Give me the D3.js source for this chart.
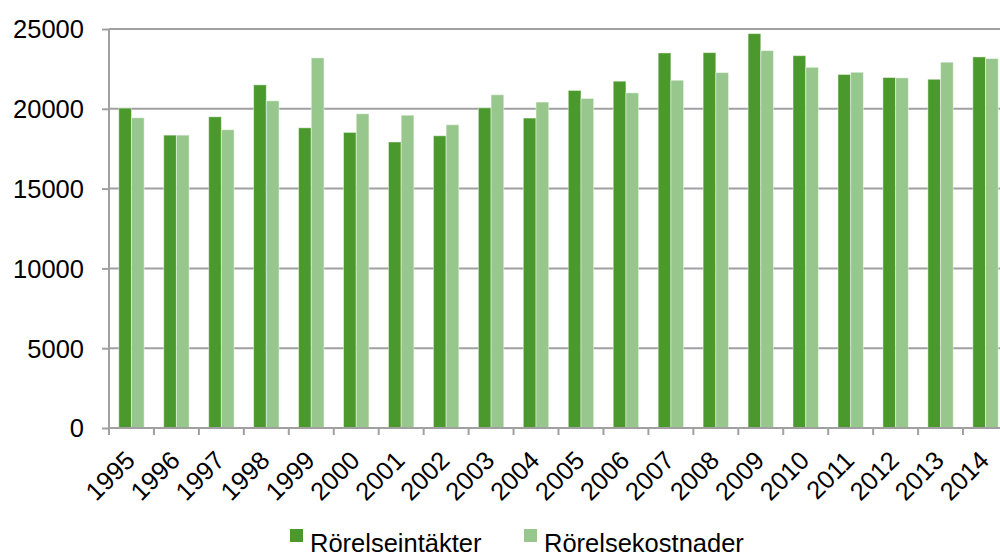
<!DOCTYPE html>
<html>
<head>
<meta charset="utf-8">
<script src="https://cdn.jsdelivr.net/npm/d3@7"></script>
<style>
  html, body { margin: 0; padding: 0; background: #fff; }
  svg { display: block; font-family: "Liberation Sans", Arial, sans-serif; }
</style>
</head>
<body>
<svg id="chart" width="1000" height="557"></svg>
<script>
const years = ["1995","1996","1997","1998","1999","2000","2001","2002","2003","2004","2005","2006","2007","2008","2009","2010","2011","2012","2013","2014"];
const seriesNames = ["Rörelseintäkter", "Rörelsekostnader"];
const intakter = [20040, 18350, 19500, 21500, 18810, 18520, 17920, 18310, 20060, 19420, 21150, 21730, 23500, 23520, 24710, 23330, 22150, 21960, 21850, 23250];
const kostnader = [19440, 18350, 18690, 20500, 23190, 19690, 19600, 19000, 20880, 20420, 20650, 21000, 21790, 22270, 23650, 22600, 22290, 21940, 22920, 23150];
const yTicks = [0, 5000, 10000, 15000, 20000, 25000];
const colors = ["#4b992c", "#98c78d"];

const svg = d3.select("#chart");
const plotLeft = 109, plotRight = 1008, plotTop = 29, plotBottom = 428;
const fs = 25.5;

const x0 = d3.scaleBand().domain(years).range([plotLeft, plotRight]).padding(0);
const bw = x0.bandwidth();
const x1 = d3.scaleBand().domain(seriesNames).range([bw * 0.2175, bw * 0.7825]).padding(0);
const y = d3.scaleLinear().domain([0, 25000]).range([plotBottom, plotTop]);
const color = d3.scaleOrdinal().domain(seriesNames).range(colors);

// gridlines
svg.append("g")
  .selectAll("line")
  .data(yTicks.filter(d => d > 0))
  .join("line")
  .attr("x1", plotLeft).attr("x2", plotRight)
  .attr("y1", d => y(d)).attr("y2", d => y(d))
  .attr("stroke", "#a0a0a0").attr("stroke-width", 2);

// y axis
const yAxis = svg.append("g")
  .attr("transform", `translate(${plotLeft},0)`)
  .call(d3.axisLeft(y).tickValues(yTicks).tickSize(7).tickPadding(18).tickFormat(d3.format("d")));
yAxis.select(".domain").attr("stroke", "#a0a0a0").attr("stroke-width", 2).attr("d", `M0,${plotTop}V${plotBottom}`);
yAxis.selectAll(".tick line").attr("stroke", "#a0a0a0").attr("stroke-width", 2);
yAxis.selectAll(".tick text").attr("font-size", fs).attr("fill", "#000").attr("dy", "0.35em")
  .attr("font-family", "'Liberation Sans', Arial, sans-serif");

// bars
const data = years.map((yr, i) => ({ year: yr, values: [
  { name: seriesNames[0], value: intakter[i] },
  { name: seriesNames[1], value: kostnader[i] }
]}));

svg.append("g")
  .selectAll("g")
  .data(data)
  .join("g")
  .attr("transform", d => `translate(${x0(d.year)},0)`)
  .selectAll("rect")
  .data(d => d.values)
  .join("rect")
  .attr("x", d => x1(d.name))
  .attr("width", x1.bandwidth())
  .attr("y", d => y(d.value))
  .attr("height", d => y(0) - y(d.value))
  .attr("fill", d => color(d.name))
  .attr("stroke", "rgba(255,255,255,0.45)")
  .attr("stroke-width", 1);

// x axis
const xAxis = svg.append("g")
  .attr("transform", `translate(0,${plotBottom})`);
xAxis.append("line")
  .attr("x1", plotLeft).attr("x2", plotRight).attr("y1", 0).attr("y2", 0)
  .attr("stroke", "#a0a0a0").attr("stroke-width", 2);
const tickPos = years.map(yr => x0(yr)).concat([x0(years[years.length - 1]) + bw]);
xAxis.selectAll("line.tk")
  .data(tickPos)
  .join("line")
  .attr("class", "tk")
  .attr("x1", d => d).attr("x2", d => d)
  .attr("y1", 0).attr("y2", 7)
  .attr("stroke", "#a0a0a0").attr("stroke-width", 2);
xAxis.selectAll("text")
  .data(years)
  .join("text")
  .attr("transform", d => `translate(${x0(d) + bw / 2 + 5},34) rotate(-45)`)
  .attr("text-anchor", "end")
  .attr("font-size", fs)
  .attr("fill", "#000")
  .text(d => d);

// legend
const legendItems = [
  { name: seriesNames[0], x: 290 },
  { name: seriesNames[1], x: 524 }
];
const lg = svg.append("g").selectAll("g").data(legendItems).join("g")
  .attr("transform", d => `translate(${d.x},529)`);
lg.append("rect").attr("width", 13).attr("height", 13).attr("fill", d => color(d.name));
lg.append("text").attr("x", 20).attr("y", 23).attr("font-size", fs).attr("fill", "#000").text(d => d.name);
</script>
</body>
</html>
